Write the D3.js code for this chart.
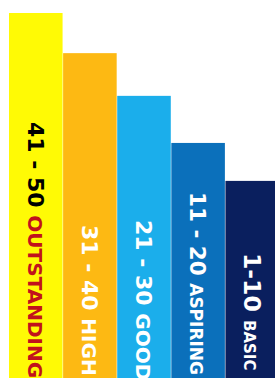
<!DOCTYPE html>
<html>
<head>
<meta charset="utf-8">
<script src="https://cdn.jsdelivr.net/npm/d3@7"></script>
<style>
	body { margin: 0; background: #fff; overflow: hidden; }
	svg { display: block; }
	.label { font-family: "DejaVu Sans", Verdana, sans-serif; font-weight: bold; }
</style>
</head>
<body>
<div id="chart"></div>
<script>
//chart data
var ranges = ["41 - 50", "31 - 40", "21 - 30", "11 - 20", "1-10"],
	levels = ["OUTSTANDING", "HIGH", "GOOD", "ASPIRING", "BASIC"],
	values = [100, 89, 77.3, 64.4, 54]; //relative bar heights

//styles
var barColours = ["#FFFA05", "#FDB913", "#1BAEEB", "#0B70BB", "#0A1F5E"],
	rangeColours = ["#000000", "#FFFFFF", "#FFFFFF", "#FFFFFF", "#FFFFFF"],
	levelColours = ["#C1121C", "#FFFFFF", "#FFFFFF", "#FFFFFF", "#FFFFFF"],
	rangeSizes = [22, 22, 22, 21.5, 23.5],
	levelSizes = [20, 20, 20, 17, 15],
	labelStart = [122, 225, 220, 192, 253];

//chart frame dimensions
var width = 275,
	height = 378,
	leftPadding = 9,
	topPadding = 13;

var svg = d3.select("#chart")
	.append("svg")
		.attr("width", width)
		.attr("height", height);

var x = d3.scaleBand()
	.domain(ranges)
	.range([leftPadding, leftPadding + 5 * 54])
	.paddingInner(0.01);

var y = d3.scaleLinear()
	.domain([0, 100])
	.range([height, topPadding]);

//bars
svg.selectAll("rect")
	.data(values)
	.enter()
	.append("rect")
		.attr("x", function(d, i) { return x(ranges[i]); })
		.attr("y", function(d) { return y(d); })
		.attr("width", x.bandwidth())
		.attr("height", function(d) { return height - y(d); })
		.style("fill", function(d, i) { return barColours[i]; });

//rotated labels
var labels = svg.selectAll(".label")
	.data(ranges)
	.enter()
	.append("text")
		.attr("class", "label")
		.attr("transform", function(d, i) {
			return "translate(" + (x(d) + x.bandwidth() / 2) + "," + labelStart[i] + ") rotate(90)";
		})
		.attr("dy", function(d, i) { return (rangeSizes[i] * 0.36) + "px"; });

labels.append("tspan")
	.style("font-size", function(d, i) { return rangeSizes[i] + "px"; })
	.style("fill", function(d, i) { return rangeColours[i]; })
	.text(function(d) { return d + " "; });

labels.append("tspan")
	.style("font-size", function(d, i) { return levelSizes[i] + "px"; })
	.style("fill", function(d, i) { return levelColours[i]; })
	.text(function(d, i) { return levels[i]; });
</script>
</body>
</html>
